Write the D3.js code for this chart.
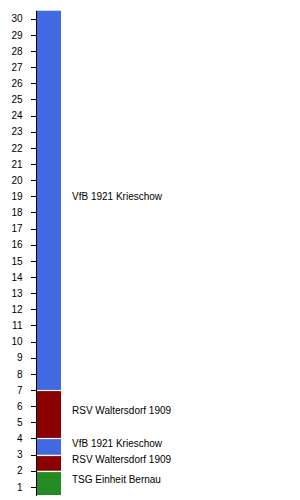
<!DOCTYPE html>
<meta charset="utf-8">
<style>
body { margin: 0; background: #fff; }
text { font-family: "Liberation Sans", Arial, sans-serif; font-size: 10px; fill: #000; }
.axis path, .axis line { stroke: #000; shape-rendering: crispEdges; }
</style>
<svg width="300" height="500"></svg>
<script src="https://cdn.jsdelivr.net/npm/d3@7"></script>
<script>

// each segment: team, from (lower value), to (upper value)
var teams  = ["TSG Einheit Bernau", "RSV Waltersdorf 1909", "VfB 1921 Krieschow", "RSV Waltersdorf 1909", "VfB 1921 Krieschow"];
var starts = [0.5, 2, 3, 4, 7];
var ends   = [2, 3, 4, 7, 30.5];
var ticks  = d3.range(1, 31);

var teamColor = {
  "TSG Einheit Bernau": "#228b22",
  "RSV Waltersdorf 1909": "#8b0000",
  "VfB 1921 Krieschow": "#4169e1"
};

var svg = d3.select("svg");

var y = d3.scaleLinear()
    .domain([0.5, 30.5])
    .range([495, 10.7]);

var barX = 36, barW = 25;

var segs = teams.map(function(t, i) {
  return { team: t, from: starts[i], to: ends[i] };
});

svg.selectAll("rect.seg")
  .data(segs)
  .enter().append("rect")
    .attr("class", "seg")
    .attr("x", barX)
    .attr("width", barW)
    .attr("y", function(d) { return y(d.to); })
    .attr("height", function(d) { return y(d.from) - y(d.to); })
    .style("fill", function(d) { return teamColor[d.team]; });

// thin white separators between segments
svg.selectAll("line.sep")
  .data(segs.slice(1))
  .enter().append("line")
    .attr("class", "sep")
    .attr("x1", barX)
    .attr("x2", barX + barW)
    .attr("y1", function(d) { return Math.round(y(d.from)) + 0.5; })
    .attr("y2", function(d) { return Math.round(y(d.from)) + 0.5; })
    .style("stroke", "#fff")
    .style("stroke-width", 1.2);

svg.selectAll("text.lbl")
  .data(segs)
  .enter().append("text")
    .attr("class", "lbl")
    .attr("x", 72)
    .attr("y", function(d) { return y((d.from + d.to) / 2); })
    .text(function(d) { return d.team; });

svg.append("g")
    .attr("class", "axis")
    .attr("transform", "translate(35.5,0)")
    .call(d3.axisLeft(y).tickValues(ticks).tickSize(5).tickSizeOuter(0).tickPadding(8))
    .call(function(g) {
      g.selectAll("text").style("font-size", "10px").style("font-family", "Liberation Sans, Arial, sans-serif");
    });

</script>
